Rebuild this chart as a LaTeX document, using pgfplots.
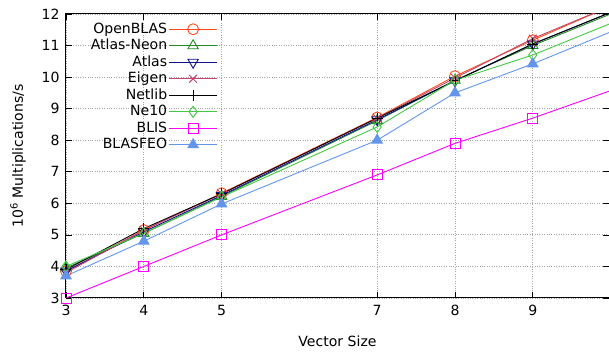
\documentclass[border=0pt]{standalone}
\usepackage{pgfplots}
\pgfplotsset{compat=1.18}
\usepackage{fontspec}
\setmainfont{DejaVu Sans}
\usetikzlibrary{calc}
\definecolor{cOpen}{HTML}{FF4A1C}
\definecolor{cANeon}{HTML}{238B23}
\definecolor{cAtlas}{HTML}{10108C}
\definecolor{cEigen}{HTML}{C4446E}
\definecolor{cNe}{HTML}{44C844}
\definecolor{cBLIS}{HTML}{FF00FF}
\definecolor{cBF}{HTML}{6495ED}
\begin{document}
\begin{tikzpicture}
\begin{axis}[
  scale only axis,
  width=543bp, height=284bp,
  xmin=3, xmax=9.98, ymin=3, ymax=12,
  xtick={3,4,5,7,8,9}, ytick={3,4,...,12},
  tick align=inside, major tick length=6bp,
  axis line style={line width=1bp},
  every tick/.style={black, line width=0.6bp},
  grid=major,
  major grid style={gray!70, dotted, line width=0.8bp},
  font=\fontsize{14.1}{16}\selectfont,
  /pgf/number format/assume math mode=true,
  xticklabel style={yshift=-4bp},
  yticklabel style={xshift=-3bp},
  xlabel={Vector Size},
  ylabel={10\textsuperscript{6} Multiplications/s},
  xlabel style={yshift=-13bp},
  ylabel style={yshift=9bp},
  legend plot pos=right,
  legend cell align=right,
  legend style={at={(rel axis cs:0.285,0.983)}, anchor=north east, draw=none, fill=none,
    row sep=0bp, nodes={inner sep=1.5bp, text height=10.5bp, text depth=3bp}},
  legend image code/.code={\draw[mark repeat=2,mark phase=2] plot coordinates {(-4bp,0bp)(20bp,0bp)(44bp,0bp)};},
  every axis plot/.append style={line width=0.9bp, mark size=5.5bp},
]
\addplot[cOpen, mark=o] coordinates {(3,3.85)(4,5.15)(5,6.32)(7,8.72)(8,10.03)(9,11.17)(11,13.33)};
\addlegendentry{OpenBLAS}
\addplot[cANeon, mark=triangle, mark size=6bp] coordinates {(3,3.95)(4,5.05)(5,6.22)(7,8.62)(8,9.9)(9,11.0)(11,13.0)};
\addlegendentry{Atlas-Neon}
\addplot[cAtlas, mark=triangle, mark options={rotate=180}, mark size=6bp] coordinates {(3,3.85)(4,5.1)(5,6.25)(7,8.65)(8,9.88)(9,11.05)(11,13.05)};
\addlegendentry{Atlas}
\addplot[cEigen, mark=x] coordinates {(3,3.8)(4,5.15)(5,6.3)(7,8.7)(8,9.97)(9,11.22)(11,13.28)};
\addlegendentry{Eigen}
\addplot[black, mark=+] coordinates {(3,3.9)(4,5.2)(5,6.3)(7,8.7)(8,9.88)(9,11.05)(11,13.05)};
\addlegendentry{Netlib}
\addplot[cNe, mark=diamond] coordinates {(3,4.0)(4,5.05)(5,6.2)(7,8.42)(8,9.9)(9,10.7)(11,12.7)};
\addlegendentry{Ne10}
\addplot[cBLIS, mark=square, mark size=5bp] coordinates {(3,3.0)(4,4.0)(5,5.0)(7,6.9)(8,7.9)(9,8.7)(11,10.44)};
\addlegendentry{BLIS}
\addplot[cBF, mark=triangle*, mark size=6bp] coordinates {(3,3.7)(4,4.8)(5,5.98)(7,8.0)(8,9.5)(9,10.42)(11,12.44)};
\addlegendentry{BLASFEO}
\end{axis}
\pgfresetboundingbox
\path[use as bounding box] ([shift={(-66bp,-56bp)}]current axis.south west) rectangle ([shift={(0bp,14bp)}]current axis.north east);
\end{tikzpicture}
\end{document}
